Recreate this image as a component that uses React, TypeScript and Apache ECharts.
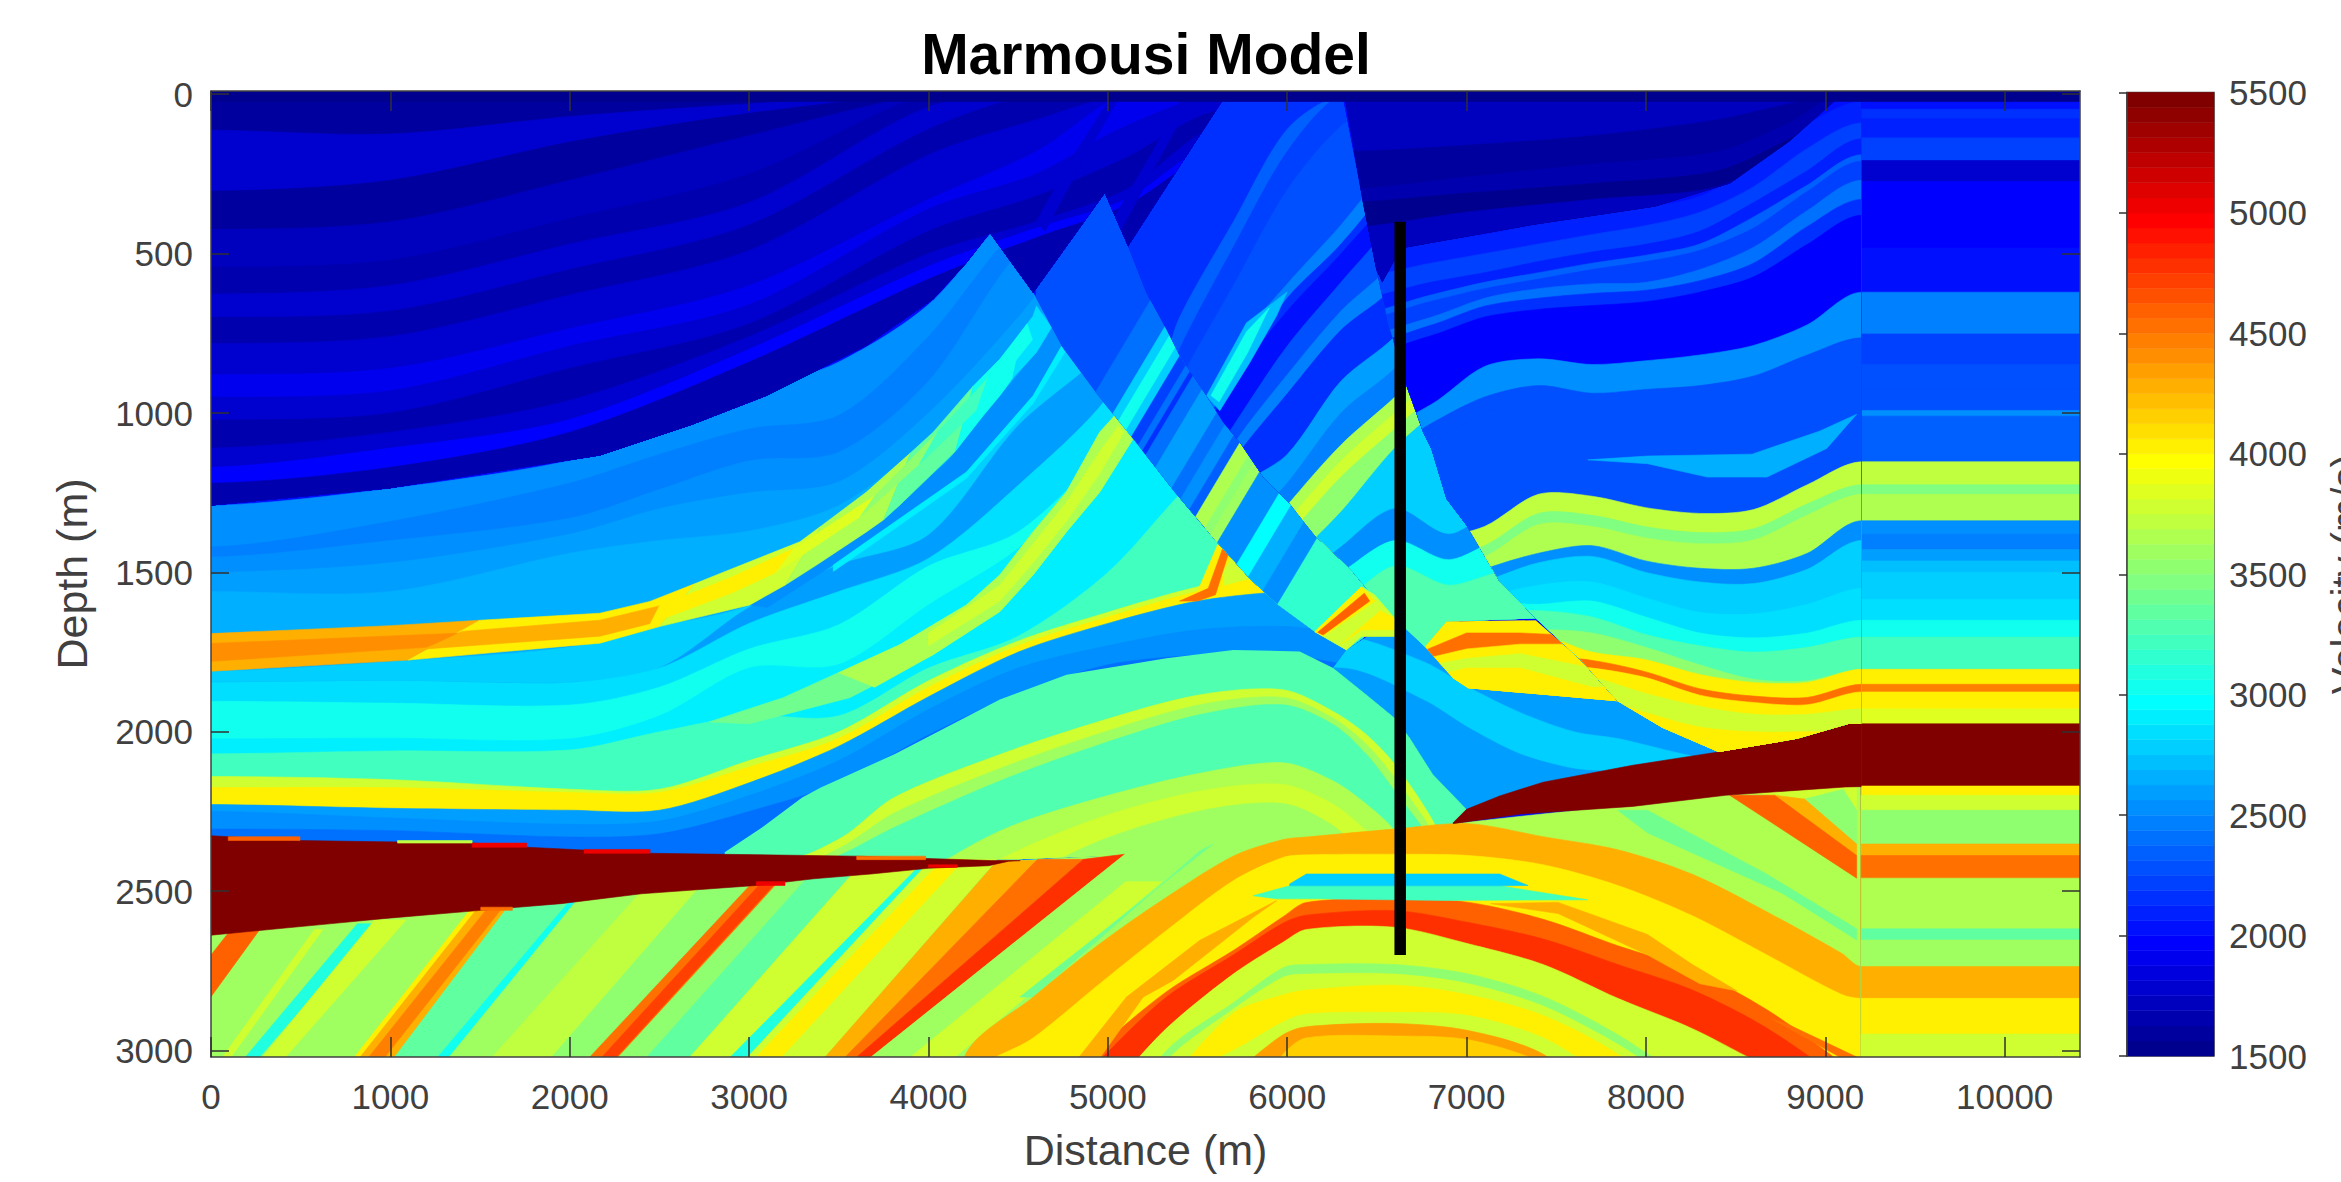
import React, { useEffect, useRef } from "react";
import * as echarts from "echarts";

const FONT = "'Liberation Sans', Arial, sans-serif";
const tickValuesX = [0, 1000, 2000, 3000, 4000, 5000, 6000, 7000, 8000, 9000, 10000];
const tickValuesY = [0, 500, 1000, 1500, 2000, 2500, 3000];
const TOP = -10, BOTTOM = 3020, RIGHT = 10420;

const backdrop = [[2000, 0, TOP, RIGHT, TOP, RIGHT, BOTTOM, 0, BOTTOM]];

// Left block: [velocity, depth at each column]
const leftX = [0, 1000, 2000, 2500, 3000, 3500, 4000, 4500, 5000, 5500, 6000, 6500];
const leftRows = [
  [2500, 1290, 1237, 1150, 1065, 940, 840, 660, 350, 200, 100, 0, 0],
  [2450, 1420, 1340, 1220, 1130, 1050, 1008, 760, 420, 250, 120, 0, 0],
  [2550, 1452, 1400, 1330, 1240, 1150, 1123, 900, 500, 300, 150, 50, 0],
  [2600, 1500, 1470, 1380, 1300, 1250, 1216, 1000, 700, 350, 200, 100, 50],
  [2650, 1560, 1560, 1440, 1400, 1370, 1290, 1080, 800, 400, 250, 150, 80],
  [2750, 1810, 1780, 1735, 1670, 1603, 1430, 1205, 880, 650, 400, 300, 200],
  [2600, 1845, 1840, 1845, 1800, 1610, 1477, 1383, 1040, 800, 450, 320, 220],
  [2850, 1845, 1840, 1845, 1800, 1660, 1560, 1456, 1227, 950, 500, 400, 300],
  [3000, 1904, 1910, 1916, 1860, 1740, 1664, 1480, 1373, 1100, 700, 550, 450],
  [2900, 2022, 2020, 2022, 1950, 1800, 1789, 1602, 1425, 1150, 800, 600, 500],
  [3200, 2069, 2060, 2057, 2000, 1950, 1950, 1800, 1700, 1500, 1200, 1000, 800],
  [3800, 2140, 2150, 2180, 2180, 2090, 2000, 1840, 1715, 1625, 1545, 1490, 1440],
  [4050, 2175, 2175, 2190, 2190, 2110, 2020, 1860, 1730, 1640, 1560, 1500, 1450],
  [2600, 2228, 2240, 2246, 2246, 2160, 2045, 1890, 1750, 1660, 1590, 1560, 1560],
  [2500, 2250, 2270, 2290, 2280, 2200, 2090, 1930, 1800, 1730, 1680, 1670, 1700],
  [2400, 2305, 2310, 2330, 2320, 2250, 2160, 2010, 1880, 1790, 1760, 1760, 1800],
];
const leftClip = [0, TOP, 4342, TOP, 4342, 435, 4398, 462, 4584, 623, 4742, 790, 4946, 946, 5141, 1081, 5373, 1248, 5615, 1409, 5791, 1519, 5950, 1602, 6154, 1686, 6330, 1743, 6330, 2500, 0, 2500];
const leftStrips = [
  [2500, 3004, 1602, 3376, 1477, 3654, 1373, 3840, 1289, 4119, 1143, 4398, 946, 4602, 810, 4686, 732, 4742, 790, 4583, 946, 4212, 1185, 3654, 1404, 3469, 1477, 3100, 1610],
  [2900, 3469, 1477, 3654, 1404, 4212, 1185, 4583, 946, 4742, 790, 4760, 810, 4583, 970, 4212, 1205, 3654, 1425, 3469, 1497],
  [4250, 0, 1692, 1000, 1667, 1500, 1650, 1100, 1775, 0, 1810],
  [4050, 1500, 1650, 2168, 1628, 2447, 1591, 2700, 1535, 2500, 1670, 2168, 1722, 1100, 1775],
  [3800, 2700, 1535, 2818, 1508, 3283, 1404, 3400, 1355, 3200, 1540, 3004, 1602, 2500, 1670],
  [3650, 3400, 1355, 3654, 1248, 3900, 1125, 3750, 1335, 3654, 1373, 3376, 1477, 3200, 1540],
  [3350, 3900, 1125, 4026, 1060, 4250, 915, 4150, 1120, 3840, 1289, 3750, 1335],
  [3050, 4250, 915, 4398, 831, 4530, 735, 4470, 890, 4398, 946, 4305, 1008, 4150, 1120],
  [2850, 4530, 735, 4583, 696, 4602, 664, 4686, 732, 4602, 810, 4470, 890],
  [4400, 0, 1723, 1400, 1690, 1200, 1735, 0, 1779],
  [4250, 1400, 1685, 2168, 1650, 2500, 1605, 2450, 1660, 2168, 1700, 1200, 1740],
  [4050, 2500, 1605, 2900, 1515, 3250, 1425, 3150, 1500, 2900, 1565, 2450, 1660],
  [3850, 3250, 1425, 3700, 1260, 3620, 1325, 3150, 1500],
  [3500, 3700, 1260, 4050, 1060, 3950, 1160, 3620, 1325],
  [3200, 4050, 1060, 4330, 890, 4270, 990, 3950, 1160],
  [3000, 4330, 890, 4550, 720, 4580, 770, 4270, 990],
  [3400, 2776, 1969, 3190, 1893, 3840, 1727, 4212, 1602, 4398, 1508, 4583, 1373, 4769, 1248, 4955, 1060, 5039, 1008, 5141, 1081, 4955, 1248, 4769, 1373, 4583, 1508, 4398, 1623, 4026, 1758, 3561, 1893, 3000, 1975],
  [3650, 3500, 1815, 3840, 1727, 4212, 1602, 4398, 1508, 4583, 1373, 4769, 1248, 4955, 1060, 5039, 1008, 5141, 1081, 4955, 1248, 4769, 1373, 4583, 1508, 4398, 1623, 4026, 1758, 3700, 1860],
  [3800, 4000, 1690, 4398, 1540, 4583, 1410, 4769, 1280, 4955, 1120, 5060, 1040, 5090, 1060, 4955, 1190, 4769, 1340, 4583, 1470, 4398, 1590, 4000, 1730],
  [4050, 5300, 1590, 5500, 1560, 5615, 1409, 5791, 1519, 5700, 1545, 5450, 1590],
  [3800, 5650, 1540, 5791, 1519, 5700, 1445, 5640, 1500],
  [4500, 5400, 1590, 5560, 1550, 5640, 1425, 5670, 1445, 5600, 1570, 5500, 1590],
];

// Blue fan between the faults and the right-hand salt wedge
const blueX = [6300, 6760, 7010, 7300, 7600, 7850, 8200, 8500];
const blueRows = [
  [2620, 1500, 1500, 1500, 1500, 1500, 1500, 1500, 1500],
  [2780, 1700, 1780, 1860, 1940, 2000, 2022, 2069, 2100],
  [2600, 1800, 1900, 1987, 2070, 2116, 2130, 2200, 2200],
];
const blueClip = [6330, 1743, 6600, 1644, 6781, 1739, 6927, 1833, 7010, 1863, 7843, 1904, 8092, 1987, 8405, 2063, 7185, 2201, 7000, 2243, 6813, 2134, 6683, 2019, 6600, 1957, 6442, 1884, 6256, 1800];

// Deep base under the left salt wedge
const baseStrips = [[3600, 0, 2480, 4400, 2407, 5105, 2385, 5105, 3020, 0, 3020]];
const upperArchX = [3200, 3520, 3808, 4398, 4955, 5513, 5977, 6256, 6442, 6600, 6813, 7000];
const upperArchRows = [
  [3300, 2000, 2000, 1900, 1800, 1700, 1700, 1700, 1700, 1800, 1900, 2000, 2100],
  [3800, 2400, 2330, 2206, 2071, 1967, 1884, 1868, 1936, 2009, 2102, 2280, 2500],
  [3600, 2430, 2360, 2255, 2115, 2005, 1915, 1892, 1957, 2040, 2145, 2315, 2520],
  [3300, 2450, 2383, 2300, 2154, 2040, 1946, 1915, 1977, 2071, 2186, 2350, 2550],
  [3650, 2700, 2600, 2500, 2311, 2207, 2130, 2097, 2154, 2227, 2311, 2500, 2600],
  [3750, 2800, 2700, 2600, 2400, 2269, 2186, 2165, 2227, 2311, 2400, 2600, 2700],
  [3600, 2900, 2800, 2700, 2500, 2342, 2248, 2225, 2295, 2400, 2500, 2700, 2800],
];
const upperArchClip = [2864, 2378, 3072, 2300, 3296, 2206, 3400, 2175, 3816, 2069, 4398, 1899, 4770, 1821, 5327, 1769, 5699, 1743, 6070, 1748, 6256, 1800, 6442, 1884, 6600, 1957, 6683, 2019, 6813, 2134, 7000, 2243, 6960, 2290, 6930, 2500, 5105, 2700, 5105, 2385, 4500, 2400, 2864, 2400];
const dippingStrips = [
  [4600, 112, 2620, 272, 2620, 0, 2831, 0, 2700],
  [3750, 64, 3020, 112, 3020, 624, 2620, 576, 2620],
  [3100, 192, 3020, 272, 3020, 912, 2602, 816, 2602],
  [3750, 288, 3020, 416, 3020, 1088, 2590, 912, 2590],
  [4000, 800, 3020, 832, 3020, 1504, 2540, 1470, 2540],
  [4250, 832, 3020, 1024, 3020, 1680, 2540, 1504, 2540],
  [4450, 880, 3020, 970, 3020, 1640, 2540, 1560, 2540],
  [3350, 1024, 3020, 1264, 3020, 2000, 2530, 1680, 2530],
  [3050, 1264, 3020, 1328, 3020, 2080, 2530, 2000, 2530],
  [3600, 1328, 3020, 1568, 3020, 2432, 2500, 2080, 2500],
  [3700, 1568, 3020, 1900, 3020, 2750, 2480, 2432, 2480],
  [3500, 1900, 3020, 2112, 3020, 3040, 2470, 2750, 2470],
  [4500, 2112, 3020, 2272, 3020, 3200, 2460, 3040, 2460],
  [4700, 2180, 3020, 2260, 3020, 3170, 2460, 3090, 2460],
  [3500, 2272, 3020, 2430, 3020, 3360, 2450, 3200, 2450],
  [3350, 2430, 3020, 2670, 3020, 3616, 2435, 3360, 2435],
  [3750, 2670, 3020, 2896, 3020, 3968, 2420, 3616, 2420],
  [3100, 2896, 3020, 2992, 3020, 4016, 2410, 3968, 2410],
  [3800, 2992, 3020, 3424, 3020, 4384, 2400, 4016, 2400],
  [4000, 3040, 3020, 3180, 3020, 4200, 2400, 4080, 2400],
  [4250, 3424, 3020, 3536, 3020, 4608, 2404, 4384, 2404],
  [4500, 3536, 3020, 3600, 3020, 4864, 2400, 4608, 2400],
  [4750, 3600, 3020, 3680, 3020, 5095, 2384, 4864, 2400],
  [3600, 3680, 3020, 4190, 3020, 5500, 2420, 5095, 2384],
  [3800, 3900, 3020, 4150, 3020, 5300, 2470, 5100, 2470],
  [3400, 4509, 2832, 4584, 2832, 5513, 2373, 5587, 2352],
];

// Below the right salt wedge
const lowerRightStrips = [
  [3650, 6927, 2288, 9200, 2150, 9200, 2800, 6900, 2800],
  [3800, 8600, 2190, 9175, 2170, 9175, 2246],
  [3550, 8884, 2211, 9100, 2180, 9175, 2246, 9175, 2352],
  [3400, 7843, 2246, 8008, 2246, 8675, 2447, 9175, 2618, 9175, 2653, 8759, 2506, 8009, 2317],
  [4250, 8717, 2199, 8884, 2211, 9175, 2352, 9175, 2388],
  [4600, 8467, 2199, 8717, 2199, 9175, 2388, 9175, 2459],
];

// Anticline below the salt
const archX = [3000, 4200, 4584, 4955, 5327, 5699, 5977, 6107, 6600, 7010, 7427, 7843, 8259, 8675, 9092, 9200];
const archRows = [
  [4250, 5000, 3020, 2832, 2665, 2519, 2390, 2338, 2330, 2305, 2288, 2329, 2370, 2447, 2565, 2695, 2736],
  [4050, 5000, 3100, 2960, 2790, 2623, 2467, 2394, 2386, 2384, 2388, 2417, 2482, 2577, 2700, 2824, 2836],
  [4600, 5000, 3300, 3200, 2990, 2815, 2686, 2580, 2535, 2524, 2535, 2588, 2671, 2748, 2872, 3040, 3100],
  [4800, 5000, 3300, 3250, 3030, 2832, 2700, 2600, 2575, 2561, 2598, 2650, 2730, 2810, 2930, 3100, 3200],
  [3800, 5000, 3400, 3300, 3150, 2930, 2760, 2660, 2620, 2613, 2665, 2730, 2836, 2931, 3050, 3150, 3150],
  [3550, 5000, 3500, 3400, 3300, 3000, 2850, 2740, 2730, 2730, 2760, 2830, 2950, 3100, 3200, 3200, 3200],
  [3800, 5000, 3500, 3400, 3300, 3030, 2870, 2770, 2760, 2760, 2790, 2860, 2980, 3130, 3200, 3200, 3200],
  [4050, 5000, 3500, 3400, 3300, 3100, 2883, 2825, 2810, 2795, 2825, 2890, 3011, 3200, 3200, 3200, 3200],
  [3800, 5000, 3500, 3400, 3300, 3100, 3000, 2910, 2885, 2880, 2890, 2960, 3100, 3200, 3200, 3200, 3200],
  [4350, 5000, 3500, 3500, 3400, 3200, 3070, 2950, 2925, 2915, 2937, 3011, 3200, 3200, 3200, 3200, 3200],
  [4150, 5000, 3500, 3500, 3400, 3300, 3200, 3011, 2960, 2954, 2966, 3040, 3200, 3200, 3200, 3200, 3200],
];
const archStrips = [
  [4300, 5104, 2832, 5513, 2654, 5940, 2530, 5810, 2582, 5364, 2780, 5197, 2832],
  [4250, 4840, 3020, 5104, 2832, 5197, 2832, 4960, 3020],
  [3200, 5810, 2514, 6014, 2483, 7185, 2483, 7676, 2527, 6885, 2529, 6163, 2524, 5940, 2524],
  [2750, 6014, 2477, 6107, 2446, 7185, 2446, 7343, 2482, 7185, 2483, 6014, 2483],
  [4250, 7135, 2539, 7510, 2535, 8009, 2636, 8259, 2730, 8509, 2813, 8300, 2790, 8009, 2700, 7510, 2570],
  [4500, 8700, 2900, 8800, 2920, 9175, 3020, 9080, 3020],
];

// Flat extension to the right of the model
const flatX = [9200, 10420];
const flatRows = [
  [1520, TOP, TOP], [2050, 23, 23], [2150, 47, 47], [2100, 77, 77], [2200, 137, 137], [1780, 208, 208],
  [1950, 274, 274], [2000, 483, 483], [2450, 621, 621], [2200, 752, 752], [2250, 848, 848], [2300, 926, 926],
  [2500, 992, 992], [2350, 1010, 1010], [3700, 1153, 1153], [3450, 1225, 1225], [3650, 1255, 1255],
  [2500, 1338, 1338], [2450, 1380, 1380], [2600, 1428, 1428], [2700, 1464, 1464], [2750, 1500, 1500],
  [2850, 1585, 1585], [3000, 1650, 1650], [3200, 1703, 1703], [4050, 1804, 1804], [4450, 1851, 1851],
  [4050, 1875, 1875], [3850, 1928, 1928], [5500, 1975, 1975], [4000, 2170, 2170], [3800, 2199, 2199],
  [3550, 2246, 2246], [4250, 2352, 2352], [4550, 2388, 2388], [3650, 2459, 2459], [3350, 2618, 2618],
  [3600, 2653, 2653], [4250, 2736, 2736], [4050, 2836, 2836], [3800, 2948, 2948],
];

const saltLeft = [5500, 0, 2326, 480, 2341, 1456, 2349, 1760, 2362, 2448, 2381, 3600, 2390, 4352, 2404, 4512, 2404, 4448, 2406, 4336, 2420, 4000, 2428, 3680, 2446, 3360, 2461, 3040, 2482, 2400, 2508, 1952, 2539, 1504, 2560, 960, 2586, 704, 2600, 384, 2617, 0, 2638];
const saltEdges = [
  [4600, 96, 2329, 496, 2329, 496, 2341, 96, 2341],
  [3700, 1040, 2341, 1456, 2341, 1456, 2349, 1040, 2349],
  [5000, 1456, 2349, 1760, 2349, 1760, 2362, 1456, 2362],
  [5000, 2080, 2369, 2448, 2369, 2448, 2381, 2080, 2381],
  [4500, 3600, 2390, 3984, 2390, 3984, 2401, 3600, 2401],
  [5000, 4000, 2425, 4160, 2425, 4160, 2417, 4000, 2417],
  [5000, 3040, 2470, 3200, 2470, 3200, 2482, 3040, 2482],
  [4500, 1504, 2550, 1680, 2550, 1680, 2560, 1504, 2560],
];
const saltRight = [5500, 6925, 2285, 7000, 2243, 7185, 2201, 7427, 2158, 7926, 2105, 8405, 2063, 8842, 2022, 9133, 1975, 9200, 1975, 9200, 2172, 9113, 2173, 8445, 2199, 7926, 2234, 7302, 2258, 6925, 2288];

// Fault block between the two western faults
const wedgeAX = [4600, 4900, 5200, 5500, 5800, 6100, 6400, 6700];
const wedgeARows = [
  [2300, TOP, TOP, TOP, TOP, TOP, TOP, TOP, TOP],
  [2400, 1246, 964, 682, 400, 118, 0, 0, 0],
  [2750, 1404, 1122, 840, 558, 276, 0, 0, 0],
  [3000, 1456, 1174, 892, 610, 328, 46, 0, 0],
  [2750, 1526, 1244, 962, 680, 398, 116, 0, 0],
  [2200, 1574, 1292, 1010, 728, 446, 164, 0, 0],
  [2400, 1636, 1354, 1072, 790, 508, 226, 0, 0],
  [2150, 1676, 1394, 1112, 830, 548, 266, 0, 0],
  [2400, 1706, 1424, 1142, 860, 578, 296, 14, 0],
  [2600, 1796, 1514, 1232, 950, 668, 386, 104, 0],
  [2400, 1946, 1664, 1382, 1100, 818, 536, 254, 0],
  [2500, 2026, 1744, 1462, 1180, 898, 616, 334, 52],
  [2350, 2106, 1824, 1542, 1260, 978, 696, 414, 132],
  [3650, 2161, 1879, 1597, 1315, 1033, 751, 469, 187],
  [3500, 2246, 1964, 1682, 1400, 1118, 836, 554, 272],
  [3600, 2296, 2014, 1732, 1450, 1168, 886, 604, 322],
  [2500, 2356, 2074, 1792, 1510, 1228, 946, 664, 382],
  [2950, 2526, 2244, 1962, 1680, 1398, 1116, 834, 552],
  [2650, 2626, 2344, 2062, 1780, 1498, 1216, 934, 652],
  [2500, 2746, 2464, 2182, 1900, 1618, 1336, 1054, 772],
  [3150, 2866, 2584, 2302, 2020, 1738, 1456, 1174, 892],
];
const wedgeAClip = [4983, 310, 5113, 477, 5215, 623, 5327, 738, 5401, 821, 5550, 946, 5643, 1029, 5736, 1092, 5866, 1201, 6014, 1284, 6163, 1389, 6349, 1488, 6442, 1550, 6572, 1644, 6330, 1743, 6154, 1686, 5950, 1602, 5791, 1519, 5615, 1409, 5373, 1248, 5141, 1081, 4946, 946, 4742, 790, 4584, 623];

// Fault block under the flat-topped high
const wedgeBX = [5100, 5400, 5700, 6000, 6300, 6600, 6900, 7200];
const wedgeBRows = [
  [2150, TOP, TOP, TOP, TOP, TOP, TOP, TOP, TOP],
  [2350, 1100, 700, 400, 110, 0, 0, 0, 0],
  [2200, 1200, 800, 480, 180, 0, 0, 0, 0],
  [2300, 1250, 900, 600, 300, 100, 0, 0, 0],
  [2450, 1500, 1150, 800, 595, 410, 200, 0, 0],
  [2150, 1540, 1190, 880, 640, 470, 260, 0, 0],
  [2000, 1560, 1210, 900, 680, 500, 300, 0, 0],
  [2250, 1650, 1300, 1040, 790, 590, 390, 100, 0],
  [2450, 1700, 1400, 1100, 880, 680, 520, 200, 0],
  [2150, 1750, 1450, 1150, 940, 740, 600, 300, 100],
  [2600, 1850, 1550, 1250, 1130, 900, 760, 550, 300],
  [2450, 1900, 1700, 1400, 1220, 1000, 860, 660, 450],
  [3650, 1950, 1730, 1500, 1290, 1100, 950, 780, 600],
  [3800, 2000, 1780, 1540, 1340, 1150, 1000, 850, 700],
  [3500, 2050, 1830, 1580, 1390, 1200, 1050, 900, 750],
  [2750, 2150, 1900, 1650, 1480, 1310, 1110, 960, 800],
  [2550, 2250, 2000, 1750, 1560, 1420, 1300, 1380, 1300],
  [3000, 2300, 2100, 1800, 1600, 1500, 1400, 1460, 1400],
  [3250, 2400, 2200, 1900, 1700, 1600, 1480, 1540, 1500],
];
const wedgeBClip = [5113, 477, 5350, 270, 5636, 23, 6312, 23, 6423, 342, 6497, 550, 6563, 717, 6665, 915, 6758, 1060, 6804, 1112, 6888, 1269, 7000, 1352, 7185, 1529, 7386, 1644, 6888, 1654, 6767, 1733, 6600, 1644, 6572, 1644, 6442, 1550, 6349, 1488, 6163, 1389, 6014, 1284, 5866, 1201, 5736, 1092, 5643, 1029, 5550, 946, 5401, 821, 5327, 738, 5215, 623];
const wedgeBStrips = [
  [2700, 5550, 946, 5773, 717, 5921, 654, 6000, 620, 5940, 696, 5791, 842, 5624, 993],
  [3000, 5575, 945, 5773, 745, 5900, 670, 5780, 810, 5620, 965],
];
const lowerChunkStrips = [
  [3800, 6154, 1686, 6330, 1743, 6414, 1701, 6600, 1701, 6600, 1644, 6488, 1571, 6414, 1545],
  [4050, 6154, 1686, 6200, 1700, 6490, 1590, 6414, 1545],
  [4600, 6170, 1688, 6200, 1696, 6460, 1590, 6430, 1565],
  [4050, 6300, 1725, 6414, 1680, 6600, 1680, 6600, 1644, 6520, 1620],
];
const chunkX = [6700, 7000, 7300, 7700, 8400];
const chunkRows = [
  [4050, 1650, 1650, 1650, 1650, 1650],
  [4500, 1760, 1690, 1690, 1700, 1700],
  [4050, 1780, 1740, 1725, 1725, 1725],
  [3800, 1800, 1770, 1755, 1800, 1800],
  [4050, 1840, 1800, 1800, 1860, 1860],
];
const chunkClip = [6888, 1654, 7385, 1650, 7635, 1774, 7843, 1904, 7010, 1863, 6927, 1833, 6767, 1733];

// Main block to the right of the listric fault
const rightX = [6300, 6800, 7100, 7400, 7700, 8000, 8300, 8600, 8900, 9200];
const rightRows = [
  [2100, 520, 465, 440, 408, 380, 355, 320, 225, 95, 23],
  [2200, 580, 530, 500, 470, 440, 412, 370, 290, 170, 90],
  [2100, 650, 590, 560, 525, 495, 471, 430, 340, 240, 140],
  [2350, 700, 630, 590, 560, 530, 505, 470, 385, 285, 190],
  [2200, 720, 650, 610, 580, 550, 525, 490, 420, 305, 210],
  [2400, 770, 700, 640, 610, 595, 590, 550, 480, 365, 270],
  [2150, 800, 725, 665, 640, 625, 615, 585, 530, 415, 330],
  [1950, 830, 758, 699, 675, 663, 651, 621, 573, 471, 380],
  [2500, 1100, 974, 854, 830, 848, 836, 818, 788, 723, 621],
  [2250, 1200, 1034, 950, 914, 938, 926, 914, 884, 818, 764],
  [2300, 1250, 1100, 1000, 975, 1000, 1060, 1090, 1085, 1045, 992],
  [3700, 1500, 1400, 1356, 1255, 1261, 1297, 1315, 1303, 1225, 1153],
  [3450, 1560, 1460, 1416, 1315, 1321, 1357, 1375, 1363, 1285, 1225],
  [3650, 1595, 1495, 1451, 1350, 1356, 1392, 1410, 1398, 1320, 1255],
  [2550, 1700, 1560, 1490, 1440, 1416, 1464, 1487, 1487, 1440, 1338],
  [2750, 1750, 1600, 1530, 1470, 1450, 1500, 1530, 1535, 1490, 1400],
  [2850, 1800, 1640, 1580, 1540, 1530, 1580, 1625, 1630, 1600, 1550],
  [3000, 1850, 1680, 1600, 1600, 1590, 1640, 1690, 1705, 1690, 1650],
  [3250, 1900, 1700, 1630, 1620, 1640, 1695, 1730, 1750, 1735, 1703],
  [3500, 1950, 1800, 1700, 1680, 1690, 1735, 1790, 1835, 1840, 1804],
  [4050, 1980, 1850, 1750, 1700, 1750, 1774, 1820, 1845, 1845, 1804],
  [4550, 2000, 1900, 1800, 1765, 1776, 1812, 1865, 1888, 1892, 1851],
  [4050, 2020, 1920, 1820, 1790, 1800, 1830, 1885, 1908, 1915, 1875],
  [3800, 2050, 1950, 1860, 1820, 1830, 1880, 1920, 1945, 1945, 1928],
  [4050, 2100, 2000, 1900, 1870, 1890, 1940, 1985, 2000, 2000, 2000],
];
const rightClip = [6312, TOP, 6423, 342, 6497, 550, 6563, 717, 6665, 915, 6758, 1060, 6804, 1112, 6888, 1269, 7000, 1352, 7185, 1529, 7386, 1644, 7635, 1774, 7843, 1904, 8092, 1987, 8405, 2063, 8842, 2022, 9133, 1975, 9200, 1975, 9200, TOP];
const rightStrips = [
  [2650, 7676, 1147, 8009, 1135, 8592, 1129, 8967, 1057, 9175, 1004, 9008, 1111, 8675, 1201, 8342, 1201, 8009, 1159],
];

// Shallow slow sediments
const darkEastX = [6300, 7000, 7700, 8400, 8800, 9100];
const darkEastRows = [
  [1700, TOP, TOP, TOP, TOP, TOP, TOP],
  [1600, 180, 160, 130, 80, 30, 0],
  [1680, 300, 260, 220, 180, 90, 0],
  [1550, 340, 310, 280, 240, 140, 50],
  [1700, 420, 370, 330, 290, 170, 50],
];
const darkEastClip = [6312, TOP, 6423, 342, 6497, 550, 6530, 590, 6635, 483, 7343, 412, 8050, 352, 8467, 280, 8800, 148, 9050, 23, 9050, TOP];
const darkWestX = [0, 1000, 2000, 3000, 4000, 4600, 5100, 5650];
const darkWestRows = [
  [1580, TOP, TOP, TOP, TOP, TOP, TOP, TOP, TOP],
  [1750, 113, 125, 70, 30, 0, 0, 0, 0],
  [1620, 304, 270, 150, 60, 0, 0, 0, 0],
  [1720, 424, 400, 270, 130, 0, 0, 0, 0],
  [1640, 543, 520, 390, 250, 0, 0, 0, 0],
  [1760, 627, 600, 470, 340, 40, 0, 0, 0],
  [1640, 700, 680, 550, 410, 110, 0, 0, 0],
  [1800, 782, 760, 630, 490, 190, 80, 0, 0],
  [1920, 880, 860, 735, 600, 330, 180, 0, 0],
  [1750, 950, 930, 790, 660, 360, 250, 100, 0],
  [1640, 1022, 1000, 860, 720, 430, 320, 200, 50],
  [1750, 1110, 1060, 960, 760, 500, 400, 300, 100],
  [1950, 1170, 1110, 1020, 800, 540, 420, 330, 150],
  [1650, 1220, 1170, 1060, 840, 580, 450, 350, 180],
];
const darkWestStrips = [
  [1800, 4600, 400, 4800, 200, 5000, 23, 5050, 23, 4850, 220, 4650, 430],
  [1800, 5000, 420, 5250, 180, 5400, 23, 5460, 23, 5290, 200, 5060, 440],
];
const darkWestClip = [0, TOP, 5636, TOP, 5636, 23, 5350, 270, 5113, 477, 4983, 310, 4584, 623, 4342, 435, 4212, 529, 4026, 643, 3654, 789, 3097, 946, 2670, 1039, 2168, 1133, 987, 1237, 0, 1290];
const topStrip = [[1520, 0, TOP, RIGHT, TOP, RIGHT, 23, 0, 23]];

const wellX = [6630, 6630];
const wellDepth = [400, 2700];

const drawOrder: any[] = [
  { strips: backdrop },
  { clip: leftClip, xs: leftX, rows: leftRows, strips: leftStrips, smooth: true },
  { clip: blueClip, xs: blueX, rows: blueRows, smooth: true },
  { strips: baseStrips },
  { clip: upperArchClip, xs: upperArchX, rows: upperArchRows, smooth: true },
  { strips: dippingStrips },
  { strips: lowerRightStrips },
  { xs: archX, rows: archRows, strips: archStrips, smooth: true },
  { xs: flatX, rows: flatRows },
  { strips: [saltLeft, ...saltEdges, saltRight] },
  { clip: wedgeAClip, xs: wedgeAX, rows: wedgeARows },
  { clip: wedgeBClip, xs: wedgeBX, rows: wedgeBRows, strips: wedgeBStrips, smooth: true },
  { strips: lowerChunkStrips },
  { clip: chunkClip, xs: chunkX, rows: chunkRows },
  { clip: rightClip, xs: rightX, rows: rightRows, strips: rightStrips, smooth: true },
  { clip: darkEastClip, xs: darkEastX, rows: darkEastRows, smooth: true },
  { clip: darkWestClip, xs: darkWestX, rows: darkWestRows, strips: darkWestStrips, smooth: true },
  { strips: topStrip },
];

const colorbarLevels = Array.from({ length: 64 }, (_, i) => 1500 + i * 62.5);

function jetColor(v: number) {
  const i = Math.min(63, Math.max(0, Math.floor(((v - 1500) / 4000) * 64)));
  const t = (i + 1) / 64;
  const ch = (a: number) => Math.round(255 * Math.max(0, Math.min(1, a)));
  const r = ch(Math.min(4 * t - 1.5, -4 * t + 4.5));
  const g = ch(Math.min(4 * t - 0.5, -4 * t + 3.5));
  const b = ch(Math.min(4 * t + 0.5, -4 * t + 2.5));
  return `rgb(${r},${g},${b})`;
}

function App() {
  const ref = useRef<HTMLDivElement>(null);
  useEffect(() => {
    const chart = echarts.init(ref.current!, undefined, { renderer: "svg" });
    const pairs = (api: any, flat: number[]) => {
      const out: number[][] = [];
      for (let i = 0; i + 1 < flat.length; i += 2) out.push(api.coord([flat[i], flat[i + 1]]));
      return out;
    };
    const poly = (points: number[][], v: number, smooth = 0) => {
      const c = jetColor(v);
      return { type: "polygon", shape: { points, smooth }, style: { fill: c, stroke: c, lineWidth: 0.6 } };
    };
    const renderModel = (params: any, api: any) => {
      const b = drawOrder[params.dataIndex];
      const children: any[] = [];
      if (b.rows) {
        const n = b.xs.length;
        for (const row of b.rows) {
          const pts: number[][] = [];
          if (b.smooth) pts.push(api.coord([b.xs[0] - 4000, row[1]]));
          b.xs.forEach((x: number, i: number) => pts.push(api.coord([x, row[i + 1]])));
          if (b.smooth) pts.push(api.coord([b.xs[n - 1] + 4000, row[n]]));
          const right = b.smooth ? b.xs[n - 1] + 4000 : b.xs[n - 1];
          const left = b.smooth ? b.xs[0] - 4000 : b.xs[0];
          pts.push(api.coord([right, 6000]), api.coord([left, 6000]));
          children.push(poly(pts, row[0], b.smooth ? 0.3 : 0));
        }
      }
      if (b.strips) for (const s of b.strips) children.push(poly(pairs(api, s.slice(1)), s[0]));
      const g: any = { type: "group", children };
      if (b.clip) g.clipPath = { type: "polygon", shape: { points: pairs(api, b.clip) } };
      return g;
    };
    const axisStyle = { lineStyle: { color: "#404040", width: 1.5 } };
    const tick = (len: number) => ({ show: true, inside: true, length: len, lineStyle: { color: "#303030", width: 1.5 } });
    const plain = (v: number) => String(v);
    const labelStyle = { color: "#404040", fontSize: 35, fontFamily: FONT, formatter: plain };
    const nameStyle = { color: "#404040", fontSize: 43, fontFamily: FONT };
    chart.setOption({
      animation: false,
      title: {
        text: "Marmousi Model", left: 1141, top: 20, textAlign: "center",
        textStyle: { color: "#000", fontSize: 57, fontWeight: "bold", fontFamily: FONT },
      },
      grid: [
        { left: 211, top: 91, width: 1869, height: 966, outerBoundsMode: "none" },
        { left: 2127, top: 92.5, width: 87, height: 963.5, show: true, borderColor: "#404040", borderWidth: 1.5, outerBoundsMode: "none" },
      ],
      xAxis: [
        {
          type: "value", gridIndex: 0, min: 0, max: RIGHT, position: "bottom", z: 10,
          axisLine: { show: true, onZero: false, ...axisStyle }, splitLine: { show: false },
          axisTick: { ...tick(20), customValues: tickValuesX },
          axisLabel: { ...labelStyle, margin: 22, customValues: tickValuesX },
          name: "Distance (m)", nameLocation: "middle", nameGap: 71, nameTextStyle: nameStyle,
        },
        {
          type: "value", gridIndex: 0, min: 0, max: RIGHT, position: "top", z: 10,
          axisLine: { show: true, onZero: false, ...axisStyle }, splitLine: { show: false },
          axisTick: { ...tick(20), customValues: tickValuesX }, axisLabel: { show: false },
        },
        {
          type: "value", gridIndex: 1, min: 0, max: 1, position: "bottom",
          axisLine: { show: false }, axisTick: { show: false }, axisLabel: { show: false }, splitLine: { show: false },
        },
      ],
      yAxis: [
        {
          type: "value", gridIndex: 0, min: TOP, max: BOTTOM, inverse: true, position: "left", z: 10,
          axisLine: { show: true, onZero: false, ...axisStyle }, splitLine: { show: false },
          axisTick: { ...tick(18), customValues: tickValuesY },
          axisLabel: { ...labelStyle, margin: 18, customValues: tickValuesY },
          name: "Depth (m)", nameLocation: "middle", nameGap: 118, nameRotate: 90, nameTextStyle: nameStyle,
        },
        {
          type: "value", gridIndex: 0, min: TOP, max: BOTTOM, inverse: true, position: "right", z: 10,
          axisLine: { show: true, onZero: false, ...axisStyle }, splitLine: { show: false },
          axisTick: { ...tick(18), customValues: tickValuesY }, axisLabel: { show: false },
        },
        {
          type: "value", gridIndex: 1, min: 1500, max: 5500, interval: 500, position: "right", z: 10,
          axisLine: { show: true, ...axisStyle }, splitLine: { show: false },
          axisTick: { show: true, inside: true, length: 8, lineStyle: { color: "#303030", width: 1.5 } },
          axisLabel: { ...labelStyle, margin: 15 },
          name: "Velocity (m/s)", nameLocation: "middle", nameGap: 112, nameRotate: 90,
          nameTextStyle: { ...nameStyle, fontSize: 40 },
        },
      ],
      series: [
        {
          type: "custom", xAxisIndex: 0, yAxisIndex: 0, renderItem: renderModel, silent: true, clip: true, z: 2,
          data: drawOrder.map((_, i) => [i, 0]),
        },
        {
          type: "line", xAxisIndex: 0, yAxisIndex: 0, showSymbol: false, silent: true, z: 5,
          data: wellX.map((x, i) => [x, wellDepth[i]]),
          lineStyle: { color: "#000", width: 11.5, cap: "butt" },
        },
        {
          type: "custom", xAxisIndex: 2, yAxisIndex: 2, silent: true, z: 2,
          renderItem: (params: any, api: any) => {
            const v = colorbarLevels[params.dataIndex];
            const a = api.coord([0, v]);
            const b = api.coord([1, v + 62.5]);
            const c = jetColor(v + 1);
            return { type: "rect", shape: { x: a[0], y: b[1], width: b[0] - a[0], height: a[1] - b[1] }, style: { fill: c, stroke: c, lineWidth: 0.5 } };
          },
          data: colorbarLevels.map((v) => [0.5, v]),
        },
      ],
    });
    return () => chart.dispose();
  }, []);
  return <div ref={ref} style={{ position: "absolute", left: 0, top: 0, width: 2341, height: 1182, background: "#fff" }} />;
}

export default App;
